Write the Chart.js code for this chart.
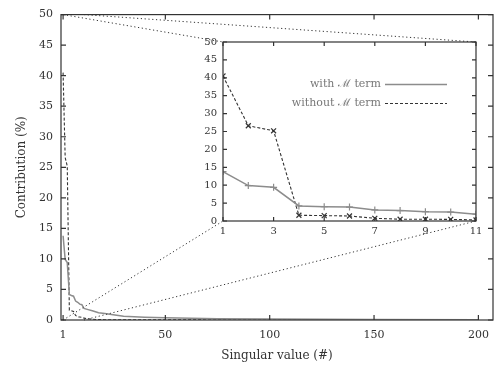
<!DOCTYPE html>
<html><head><meta charset="utf-8">
<script src="https://cdn.jsdelivr.net/npm/chart.js@4/dist/chart.umd.min.js"></script>
<style>
html,body{margin:0;padding:0;background:#fff;}
#wrap{position:relative;width:500px;height:369px;}
canvas{position:absolute;left:0;top:0;}
</style>
</head><body>
<div id="wrap"><canvas id="main" width="500" height="369"></canvas><canvas id="inset" width="500" height="369"></canvas></div>
<script>
// ---- data ----
const SINGULAR_HEAD = [1, 2, 3, 4, 5, 6, 7, 8, 9, 10, 11];
const WITH_M_HEAD = [13.8, 9.9, 9.4, 4.2, 4.0, 3.9, 3.1, 2.9, 2.6, 2.5, 1.9];
const WITHOUT_M_HEAD = [40.5, 26.6, 25.2, 1.6, 1.5, 1.4, 0.75, 0.5, 0.5, 0.45, 0.3];
const SINGULAR_TAIL = [13, 15, 18, 21, 25, 30, 40, 50, 75, 100, 150, 200];
const WITH_M_TAIL = [1.7, 1.5, 1.2, 1.05, 0.85, 0.6, 0.45, 0.35, 0.22, 0.15, 0.08, 0.04];
const WITHOUT_M_TAIL = [0.2, 0.12, 0.07, 0.05, 0.04, 0.03, 0.02, 0.02, 0.01, 0.01, 0.01, 0.01];
const MAIN_X_TICKS = [1, 50, 100, 150, 200];
const INSET_X_TICKS = [1, 3, 5, 7, 9, 11];
const SERIES_LABELS = ['with \u2133 term', 'without \u2133 term'];
const X_TITLE = 'Singular value (#)';
const Y_TITLE = 'Contribution (%)';

Chart.defaults.font.family = "'DejaVu Serif', serif";
Chart.defaults.color = '#333';

const pts = (xs, ys) => xs.map((x, i) => ({x: x, y: ys[i]}));
const mainWith = pts(SINGULAR_HEAD.concat(SINGULAR_TAIL), WITH_M_HEAD.concat(WITH_M_TAIL));
const mainWithout = pts(SINGULAR_HEAD.concat(SINGULAR_TAIL), WITHOUT_M_HEAD.concat(WITHOUT_M_TAIL));

const WITH_COLOR = '#8c8c8c';
const WITHOUT_COLOR = '#333333';

const framePlugin = {
  id: 'frame',
  afterDatasetsDraw(chart, args, opts) {
    const {ctx, chartArea: a} = chart;
    const xs = chart.scales.x, ys = chart.scales.y;
    const L = opts.tick || 5;
    ctx.save();
    ctx.strokeStyle = opts.color || '#333';
    ctx.lineWidth = opts.width || 1.2;
    ctx.setLineDash([]);
    ctx.strokeRect(a.left, a.top, a.right - a.left, a.bottom - a.top);
    ctx.beginPath();
    xs.ticks.forEach(t => {
      const p = xs.getPixelForValue(t.value);
      ctx.moveTo(p, a.bottom); ctx.lineTo(p, a.bottom - L);
      ctx.moveTo(p, a.top); ctx.lineTo(p, a.top + L);
    });
    ys.ticks.forEach(t => {
      const p = ys.getPixelForValue(t.value);
      ctx.moveTo(a.left, p); ctx.lineTo(a.left + L, p);
      ctx.moveTo(a.right, p); ctx.lineTo(a.right - L, p);
    });
    ctx.stroke();
    ctx.restore();
  }
};

const mainChart = new Chart(document.getElementById('main'), {
  type: 'line',
  data: {datasets: [
    {label: SERIES_LABELS[0], data: mainWith, borderColor: WITH_COLOR, borderWidth: 1.5, pointRadius: 0, fill: false, tension: 0},
    {label: SERIES_LABELS[1], data: mainWithout, borderColor: WITHOUT_COLOR, borderWidth: 1.1, borderDash: [3, 2], pointRadius: 0, fill: false, tension: 0}
  ]},
  options: {
    responsive: false, animation: false, devicePixelRatio: 1,
    layout: {padding: {top: 13, right: 7, left: 0, bottom: 0}},
    plugins: {legend: {display: false}, tooltip: {enabled: false}, frame: {tick: 5, width: 1.2, color: '#333'}},
    scales: {
      x: {
        type: 'linear', min: 0, max: 207,
        afterBuildTicks: s => { s.ticks = MAIN_X_TICKS.map(v => ({value: v})); },
        afterFit: s => { s.height = 49; },
        grid: {display: false, drawTicks: false}, border: {display: false},
        ticks: {padding: 9, font: {size: 11}, maxRotation: 0, autoSkip: false},
        title: {display: true, text: X_TITLE, font: {size: 12}, padding: {top: 0, bottom: 6}}
      },
      y: {
        type: 'linear', min: 0, max: 50,
        afterFit: s => { s.width = 61; },
        grid: {display: false, drawTicks: false}, border: {display: false},
        ticks: {stepSize: 5, padding: 8, font: {size: 11}},
        title: {display: true, text: Y_TITLE, font: {size: 12}, padding: {top: 15, bottom: 0}}
      }
    }
  },
  plugins: [framePlugin]
});

const connectorPlugin = {
  id: 'connectors',
  beforeDatasetsDraw(chart) {
    const mx = mainChart.scales.x, my = mainChart.scales.y;
    const ix = chart.scales.x, iy = chart.scales.y;
    const corners = [[1, 50], [11, 50], [1, 0], [11, 0]];
    const ctx = chart.ctx;
    ctx.save();
    ctx.strokeStyle = '#333';
    ctx.lineWidth = 1;
    ctx.setLineDash([1.2, 2.6]);
    ctx.beginPath();
    corners.forEach(c => {
      ctx.moveTo(mx.getPixelForValue(c[0]), my.getPixelForValue(c[1]));
      ctx.lineTo(ix.getPixelForValue(c[0]), iy.getPixelForValue(c[1]));
    });
    ctx.stroke();
    ctx.restore();
  }
};

const legendPlugin = {
  id: 'cornerLegend',
  afterDraw(chart) {
    const {ctx, chartArea: a} = chart;
    const textRight = a.right - 95, x0 = a.right - 91, x1 = a.right - 29;
    const rows = [a.top + 42, a.top + 61];
    ctx.save();
    chart.data.datasets.forEach((ds, i) => {
      ctx.font = "11px 'DejaVu Serif', serif";
      ctx.fillStyle = '#777';
      ctx.textAlign = 'right';
      ctx.textBaseline = 'middle';
      ctx.fillText(ds.label, textRight, rows[i]);
      ctx.strokeStyle = ds.borderColor;
      ctx.lineWidth = ds.borderWidth;
      ctx.setLineDash(ds.borderDash || []);
      ctx.beginPath();
      ctx.moveTo(x0, rows[i] + 0.5); ctx.lineTo(x1, rows[i] + 0.5);
      ctx.stroke();
    });
    ctx.restore();
  }
};

const insetChart = new Chart(document.getElementById('inset'), {
  type: 'line',
  data: {datasets: [
    {label: SERIES_LABELS[0], data: pts(SINGULAR_HEAD, WITH_M_HEAD), borderColor: WITH_COLOR, borderWidth: 1.5,
     pointStyle: 'cross', pointRadius: 3.5, pointBorderColor: WITH_COLOR, pointBorderWidth: 1.2, fill: false, tension: 0},
    {label: SERIES_LABELS[1], data: pts(SINGULAR_HEAD, WITHOUT_M_HEAD), borderColor: WITHOUT_COLOR, borderWidth: 1.1, borderDash: [3, 2],
     pointStyle: 'crossRot', pointRadius: 3.5, pointBorderColor: WITHOUT_COLOR, pointBorderWidth: 1.2, fill: false, tension: 0}
  ]},
  options: {
    responsive: false, animation: false, devicePixelRatio: 1,
    layout: {padding: {left: 193, top: 42, right: 24, bottom: 128}},
    plugins: {legend: {display: false}, tooltip: {enabled: false}, frame: {tick: 4, width: 1.2, color: '#333'}},
    scales: {
      x: {
        type: 'linear', min: 1, max: 11,
        afterBuildTicks: s => { s.ticks = INSET_X_TICKS.map(v => ({value: v})); },
        afterFit: s => { s.height = 20; },
        grid: {display: false, drawTicks: false}, border: {display: false},
        ticks: {padding: 4, font: {size: 10}, maxRotation: 0, autoSkip: false}
      },
      y: {
        type: 'linear', min: 0, max: 50,
        afterFit: s => { s.width = 30; },
        grid: {display: false, drawTicks: false}, border: {display: false},
        ticks: {stepSize: 5, padding: 6, font: {size: 10}}
      }
    }
  },
  plugins: [connectorPlugin, framePlugin, legendPlugin]
});
</script>
</body></html>
